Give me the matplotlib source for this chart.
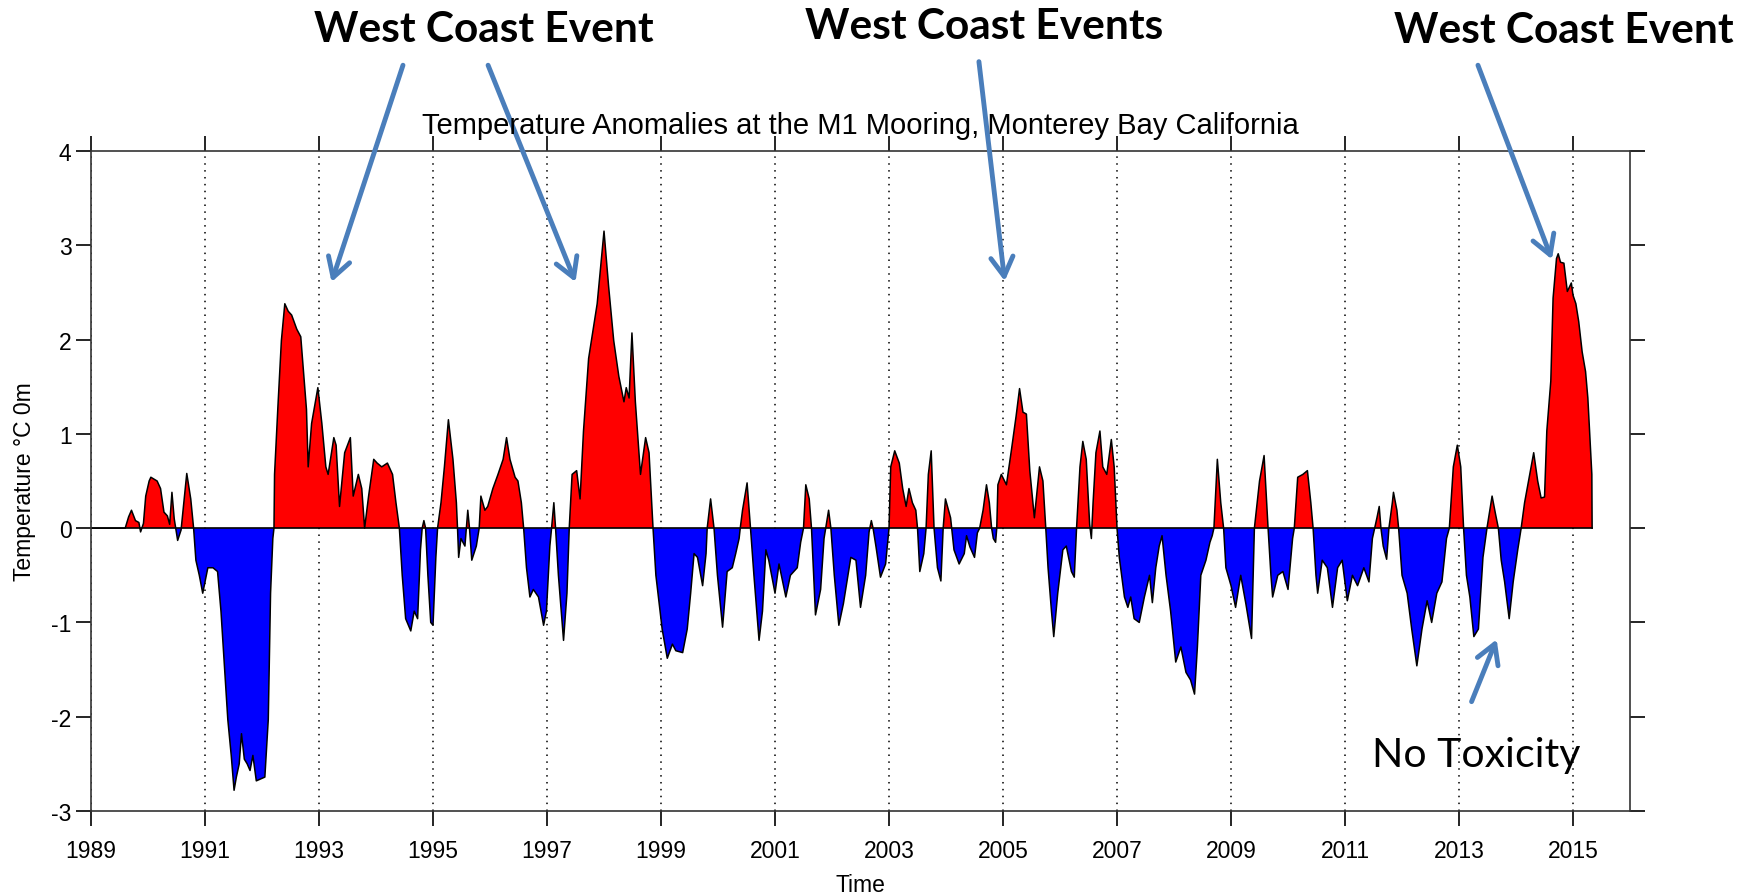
import matplotlib
matplotlib.use("Agg")
import matplotlib.pyplot as plt
import numpy as np

plt.rcParams['font.family'] = ['Liberation Sans', 'DejaVu Sans']
plt.rcParams['axes.unicode_minus'] = False

years = [1989.00, 1989.60, 1989.66, 1989.71, 1989.78, 1989.84, 1989.87, 1989.92, 1989.96, 1990.02,
         1990.05, 1990.16, 1990.22, 1990.28, 1990.34, 1990.38, 1990.42, 1990.46, 1990.52, 1990.58,
         1990.64, 1990.68, 1990.75, 1990.80, 1990.84, 1990.90, 1990.96, 1991.00, 1991.05, 1991.14,
         1991.22, 1991.28, 1991.34, 1991.40, 1991.46, 1991.51, 1991.55, 1991.60, 1991.64, 1991.69,
         1991.74, 1991.79, 1991.84, 1991.90, 1992.05, 1992.11, 1992.15, 1992.19, 1992.21, 1992.22,
         1992.28, 1992.34, 1992.40, 1992.46, 1992.52, 1992.61, 1992.68, 1992.72, 1992.78, 1992.81,
         1992.87, 1992.98, 1993.05, 1993.12, 1993.16, 1993.26, 1993.30, 1993.36, 1993.45, 1993.55,
         1993.60, 1993.69, 1993.75, 1993.80, 1993.87, 1993.96, 1994.02, 1994.10, 1994.20, 1994.29,
         1994.35, 1994.41, 1994.46, 1994.52, 1994.61, 1994.67, 1994.73, 1994.78, 1994.81, 1994.84,
         1994.87, 1994.91, 1994.96, 1995.00, 1995.05, 1995.08, 1995.14, 1995.20, 1995.27, 1995.35,
         1995.41, 1995.43, 1995.45, 1995.49, 1995.56, 1995.61, 1995.64, 1995.68, 1995.76, 1995.81,
         1995.84, 1995.91, 1995.96, 1996.05, 1996.14, 1996.23, 1996.29, 1996.35, 1996.44, 1996.49,
         1996.55, 1996.59, 1996.64, 1996.70, 1996.76, 1996.85, 1996.94, 1996.99, 1997.05, 1997.08,
         1997.12, 1997.15, 1997.20, 1997.29, 1997.35, 1997.39, 1997.44, 1997.52, 1997.58, 1997.64,
         1997.73, 1997.79, 1997.88, 1997.94, 1998.00, 1998.08, 1998.17, 1998.26, 1998.35, 1998.39,
         1998.44, 1998.49, 1998.55, 1998.64, 1998.73, 1998.79, 1998.86, 1998.91, 1999.02, 1999.11,
         1999.20, 1999.26, 1999.38, 1999.46, 1999.52, 1999.58, 1999.64, 1999.73, 1999.79, 1999.81,
         1999.87, 1999.93, 1999.99, 2000.08, 2000.16, 2000.25, 2000.31, 2000.37, 2000.39, 2000.43,
         2000.51, 2000.57, 2000.63, 2000.72, 2000.78, 2000.84, 2000.89, 2001.00, 2001.07, 2001.19,
         2001.27, 2001.39, 2001.45, 2001.50, 2001.54, 2001.60, 2001.64, 2001.71, 2001.80, 2001.86,
         2001.89, 2001.94, 2001.98, 2002.04, 2002.12, 2002.20, 2002.33, 2002.42, 2002.50, 2002.59,
         2002.65, 2002.69, 2002.72, 2002.77, 2002.85, 2002.94, 2003.00, 2003.03, 2003.10, 2003.18,
         2003.24, 2003.30, 2003.35, 2003.41, 2003.47, 2003.50, 2003.54, 2003.61, 2003.65, 2003.69,
         2003.74, 2003.79, 2003.85, 2003.91, 2003.95, 2003.99, 2004.08, 2004.10, 2004.14, 2004.23,
         2004.32, 2004.36, 2004.42, 2004.50, 2004.55, 2004.59, 2004.65, 2004.71, 2004.76, 2004.80,
         2004.83, 2004.87, 2004.89, 2004.91, 2004.97, 2005.06, 2005.15, 2005.23, 2005.29, 2005.35,
         2005.41, 2005.47, 2005.55, 2005.64, 2005.70, 2005.75, 2005.79, 2005.85, 2005.89, 2005.96,
         2006.05, 2006.11, 2006.20, 2006.25, 2006.29, 2006.35, 2006.40, 2006.46, 2006.52, 2006.55,
         2006.58, 2006.63, 2006.70, 2006.75, 2006.82, 2006.90, 2006.95, 2007.00, 2007.04, 2007.13,
         2007.19, 2007.24, 2007.30, 2007.39, 2007.48, 2007.57, 2007.62, 2007.68, 2007.74, 2007.79,
         2007.86, 2007.94, 2008.03, 2008.12, 2008.21, 2008.29, 2008.36, 2008.41, 2008.47, 2008.56,
         2008.63, 2008.67, 2008.70, 2008.76, 2008.82, 2008.87, 2008.91, 2009.00, 2009.08, 2009.17,
         2009.26, 2009.36, 2009.41, 2009.50, 2009.58, 2009.65, 2009.70, 2009.73, 2009.82, 2009.91,
         2010.00, 2010.08, 2010.11, 2010.17, 2010.26, 2010.34, 2010.40, 2010.44, 2010.49, 2010.52,
         2010.60, 2010.69, 2010.78, 2010.87, 2010.95, 2011.04, 2011.13, 2011.22, 2011.33, 2011.42,
         2011.48, 2011.52, 2011.56, 2011.60, 2011.63, 2011.67, 2011.73, 2011.77, 2011.83, 2011.85,
         2011.91, 2011.94, 2012.00, 2012.09, 2012.17, 2012.26, 2012.35, 2012.44, 2012.52, 2012.61,
         2012.70, 2012.78, 2012.83, 2012.90, 2012.97, 2013.03, 2013.08, 2013.13, 2013.19, 2013.26,
         2013.34, 2013.42, 2013.49, 2013.54, 2013.58, 2013.64, 2013.69, 2013.74, 2013.80, 2013.88,
         2013.95, 2014.03, 2014.09, 2014.15, 2014.24, 2014.31, 2014.38, 2014.44, 2014.50, 2014.54,
         2014.61, 2014.65, 2014.71, 2014.74, 2014.78, 2014.84, 2014.90, 2014.97, 2015.00, 2015.05,
         2015.10, 2015.16, 2015.22, 2015.26, 2015.29, 2015.33, 2015.335]

anomaly = [0.00, 0.00, 0.12, 0.19, 0.08, 0.06, -0.04, 0.05, 0.34, 0.50,
           0.54, 0.50, 0.42, 0.17, 0.13, 0.04, 0.38, 0.10, -0.13, -0.02,
           0.34, 0.58, 0.31, 0.00, -0.34, -0.50, -0.69, -0.57, -0.42, -0.42,
           -0.46, -0.88, -1.46, -2.03, -2.41, -2.78, -2.64, -2.50, -2.18, -2.45,
           -2.50, -2.57, -2.41, -2.68, -2.64, -2.03, -0.69, -0.11, 0.00, 0.57,
           1.30, 1.99, 2.38, 2.30, 2.26, 2.11, 2.03, 1.72, 1.26, 0.65,
           1.11, 1.49, 1.11, 0.65, 0.57, 0.96, 0.88, 0.23, 0.80, 0.96,
           0.34, 0.57, 0.42, 0.00, 0.34, 0.73, 0.69, 0.65, 0.69, 0.57,
           0.27, 0.00, -0.50, -0.96, -1.09, -0.88, -0.96, -0.23, 0.00, 0.08,
           0.00, -0.50, -1.00, -1.03, -0.31, 0.00, 0.27, 0.65, 1.15, 0.73,
           0.27, 0.00, -0.31, -0.11, -0.19, 0.19, 0.00, -0.34, -0.19, 0.00,
           0.34, 0.19, 0.23, 0.42, 0.57, 0.73, 0.96, 0.73, 0.54, 0.50,
           0.27, 0.00, -0.42, -0.73, -0.65, -0.73, -1.03, -0.88, -0.19, 0.00,
           0.27, 0.00, -0.50, -1.19, -0.69, 0.00, 0.57, 0.61, 0.31, 1.03,
           1.80, 2.03, 2.38, 2.76, 3.15, 2.57, 1.99, 1.61, 1.34, 1.49,
           1.38, 2.07, 1.34, 0.57, 0.96, 0.80, 0.00, -0.50, -1.07, -1.38,
           -1.23, -1.30, -1.32, -1.07, -0.69, -0.27, -0.31, -0.61, -0.27, 0.00,
           0.31, 0.00, -0.50, -1.05, -0.46, -0.42, -0.27, -0.11, 0.00, 0.19,
           0.48, 0.00, -0.50, -1.19, -0.88, -0.23, -0.34, -0.69, -0.38, -0.73,
           -0.50, -0.42, -0.15, 0.00, 0.46, 0.31, 0.00, -0.92, -0.65, -0.11,
           0.00, 0.19, 0.00, -0.50, -1.03, -0.80, -0.31, -0.34, -0.84, -0.50,
           -0.04, 0.08, 0.00, -0.19, -0.52, -0.38, 0.00, 0.65, 0.82, 0.69,
           0.42, 0.23, 0.42, 0.27, 0.19, 0.00, -0.46, -0.27, 0.00, 0.57,
           0.82, 0.00, -0.42, -0.56, 0.00, 0.31, 0.11, 0.00, -0.23, -0.38,
           -0.27, -0.08, -0.20, -0.31, -0.05, 0.00, 0.19, 0.46, 0.27, 0.00,
           -0.11, -0.15, 0.00, 0.46, 0.57, 0.46, 0.84, 1.19, 1.48, 1.23,
           1.21, 0.61, 0.11, 0.65, 0.50, 0.00, -0.42, -0.88, -1.15, -0.69,
           -0.23, -0.19, -0.46, -0.52, 0.00, 0.65, 0.92, 0.73, 0.04, -0.11,
           0.27, 0.80, 1.03, 0.65, 0.57, 0.94, 0.65, 0.00, -0.31, -0.73,
           -0.84, -0.73, -0.96, -1.00, -0.73, -0.50, -0.79, -0.42, -0.19, -0.08,
           -0.50, -0.88, -1.42, -1.26, -1.53, -1.61, -1.76, -1.26, -0.50, -0.34,
           -0.15, -0.08, 0.00, 0.73, 0.27, 0.00, -0.42, -0.61, -0.84, -0.50,
           -0.80, -1.17, 0.00, 0.50, 0.77, 0.00, -0.50, -0.73, -0.50, -0.46,
           -0.65, -0.11, 0.00, 0.54, 0.57, 0.61, 0.27, 0.00, -0.50, -0.69,
           -0.34, -0.42, -0.84, -0.42, -0.34, -0.77, -0.50, -0.61, -0.42, -0.57,
           -0.11, 0.00, 0.11, 0.23, 0.00, -0.19, -0.33, 0.00, 0.27, 0.38,
           0.19, 0.00, -0.50, -0.69, -1.07, -1.46, -1.07, -0.77, -1.00, -0.69,
           -0.57, -0.11, 0.00, 0.65, 0.88, 0.65, 0.00, -0.50, -0.73, -1.15,
           -1.07, -0.31, 0.00, 0.19, 0.34, 0.15, 0.00, -0.34, -0.57, -0.96,
           -0.57, -0.23, 0.00, 0.27, 0.57, 0.80, 0.50, 0.32, 0.33, 1.03,
           1.56, 2.44, 2.86, 2.91, 2.82, 2.81, 2.51, 2.60, 2.47, 2.38,
           2.19, 1.87, 1.66, 1.38, 1.03, 0.57, 0.00]

year_ticks = list(range(1989, 2016, 2))
temp_ticks = list(range(-3, 5))

title = 'Temperature Anomalies at the M1 Mooring, Monterey Bay California'
event_labels = ['West Coast Event', 'West Coast Events', 'West Coast Event']
# arrow tips in data units (year, anomaly)
event_tips = [(1993.22, 2.61), (1997.50, 2.61), (2005.03, 2.62), (2014.63, 2.85)]

x = np.array(years)
y = np.array(anomaly)

fig = plt.figure(figsize=(17.4, 8.95), dpi=100)
ax = fig.add_axes([0.0523, 0.0927, 0.8845, 0.7375])

ax.fill_between(x, y, 0, where=y >= 0, interpolate=True, color='#ff0000', linewidth=0)
ax.fill_between(x, y, 0, where=y <= 0, interpolate=True, color='#0000ff', linewidth=0)
ax.plot(x, y, color='black', lw=1.1)
ax.plot([x[0], x[-1]], [0, 0], color='black', lw=1.2)

ax.set_xlim(1989, 2016)
ax.set_ylim(-3, 4)
ax.set_xticks(year_ticks)
ax.set_yticks(temp_ticks)
ax.xaxis.grid(True, linestyle=(0, (1, 3.5)), color='black', lw=1.1)
ax.set_axisbelow(True)

ax.tick_params(direction='out', length=11, width=1.2, top=True, right=True,
               labelsize=16.5, colors='black')
ax.tick_params(axis='x', pad=9)
ax.tick_params(axis='y', pad=3)
for s in ax.spines.values():
    s.set_linewidth(1.2)
    s.set_color('#333333')

ax.set_title(title, fontsize=21, y=1.0, pad=13)
ax.set_xlabel('Time', fontsize=16.5)
ax.set_ylabel('Temperature \u00b0C 0m', fontsize=16.5)
ax.xaxis.set_label_coords(0.5, -0.094)
ax.yaxis.set_label_coords(-0.036, 0.5)

# annotations on top of the chart
blue = '#4a7ebb'
fig.text(0.1805, 0.966, event_labels[0], family=['Lato', 'DejaVu Sans'], weight='bold',
         fontsize=30.5, ha='left', va='center')
fig.text(0.4625, 0.970, event_labels[1], family=['Lato', 'DejaVu Sans'], weight='bold',
         fontsize=30.5, ha='left', va='center')
fig.text(0.801, 0.965, event_labels[2], family=['Lato', 'DejaVu Sans'], weight='bold',
         fontsize=30.5, ha='left', va='center')
fig.text(0.7885, 0.156, 'No Toxicity', family=['Lato', 'DejaVu Sans'],
         fontsize=29.5, ha='left', va='center')

arrow_style = dict(arrowstyle='->,head_length=0.55,head_width=0.32', color=blue,
                   lw=3.5, mutation_scale=25, shrinkA=0, shrinkB=0)
tails = [(0.2316, 0.926), (0.2805, 0.926), (0.5626, 0.930), (0.8494, 0.926)]
for tip, tail in zip(event_tips, tails):
    ax.annotate('', xy=tip, xycoords='data', xytext=tail, textcoords='figure fraction',
                arrowprops=arrow_style)
ax.annotate('', xy=(2013.66, -1.18), xycoords='data', xytext=(2013.22, -1.84),
            textcoords='data', arrowprops=arrow_style)

fig.savefig('out.png', dpi=100)
